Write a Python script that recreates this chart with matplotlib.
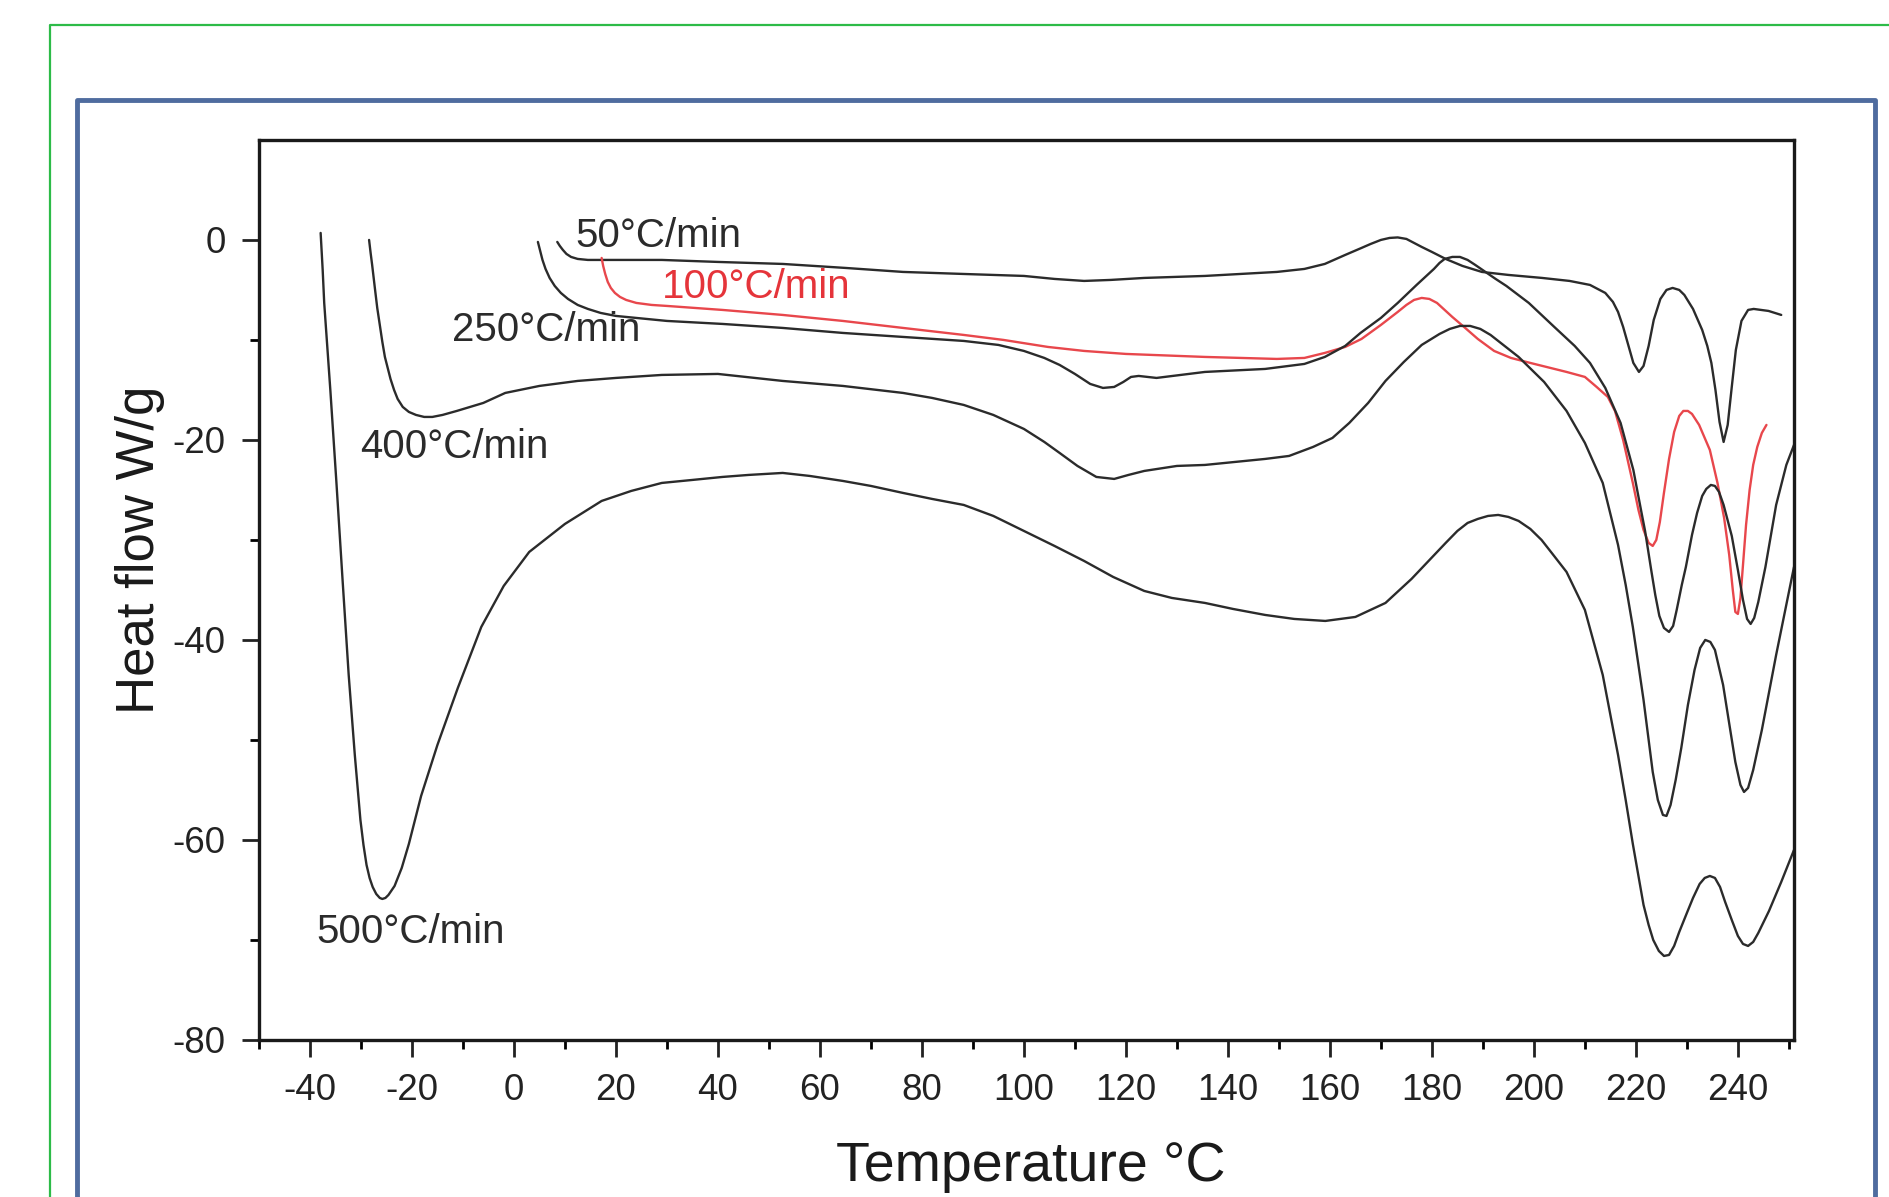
import matplotlib
matplotlib.use("Agg")
import matplotlib.pyplot as plt
from matplotlib.lines import Line2D
from matplotlib.ticker import MultipleLocator, FixedLocator

# Font settings (Arial-like)
plt.rcParams['font.family'] = ['Liberation Sans', 'DejaVu Sans']
plt.rcParams['axes.unicode_minus'] = False

# ---- data ----
# 50 C/min
t50 = [8.5, 9.0, 9.6, 10.3, 11.2, 12.5, 14.5, 20, 29, 40, 52.7, 65, 76.3, 88, 100, 106, 111.8,
       117, 123.6, 135.5, 149.6, 155, 159, 163, 166.2, 168, 170, 171.7, 173.3, 175, 176.5,
       178, 180, 182.7, 186, 189.8, 195, 201.6, 207, 211, 214, 215.5, 216.5, 217.5, 218.5,
       219.5, 220.6, 221.5, 222.5, 223.5, 224.8, 226, 227.2, 228.5, 229.5, 231.2, 233, 234,
       234.8, 235.6, 236.4, 237.2, 238, 238.8, 239.6, 240.7, 242, 243.1, 246, 248.5]
hf50 = [-0.2, -0.6, -1.0, -1.4, -1.7, -1.9, -2.0, -2.0, -2.0, -2.2, -2.4, -2.8, -3.2, -3.4,
        -3.6, -3.9, -4.1, -4.0, -3.8, -3.6, -3.2, -2.9, -2.4, -1.5, -0.8, -0.4, 0.0, 0.2, 0.25,
        0.1, -0.3, -0.7, -1.2, -1.9, -2.6, -3.2, -3.5, -3.8, -4.1, -4.5, -5.3, -6.2, -7.2,
        -8.7, -10.5, -12.3, -13.2, -12.6, -10.6, -8.0, -5.9, -5.0, -4.8, -5.0, -5.5, -6.9,
        -9.0, -10.6, -12.3, -15.0, -18.2, -20.2, -18.5, -14.7, -11.0, -8.1, -7.0, -6.9, -7.1,
        -7.5]

# 100 C/min (red)
t100 = [17.2, 17.5, 17.9, 18.4, 19, 19.8, 20.8, 22, 24, 27, 30, 40.9, 52.7, 64.5, 76.3, 88.2,
        96, 104.7, 111.8, 120, 135.5, 149.6, 155, 159, 163, 166.2, 170, 173.3, 175, 176.5,
        178, 179.5, 181, 182.5, 184, 186.3, 189, 192.2, 195.5, 199.3, 206.4, 210, 212.3,
        214.5, 215.9, 217.5, 219.4, 220.5, 221.5, 222.5, 223.3, 224, 224.7, 225.5, 226.5,
        227.5, 228.5, 229.3, 230.2, 231, 232.4, 234.5, 236, 237.3, 238.3, 239, 239.5, 240,
        240.5, 241, 241.6, 242.3, 243, 243.8, 244.7, 245.6]
hf100 = [-1.8, -2.6, -3.4, -4.2, -4.8, -5.3, -5.7, -6.0, -6.3, -6.5, -6.6, -7.0, -7.5, -8.1,
         -8.8, -9.5, -10.0, -10.7, -11.1, -11.4, -11.7, -11.9, -11.8, -11.3, -10.7, -9.9, -8.5,
         -7.2, -6.5, -6.0, -5.8, -5.9, -6.3, -7.0, -7.7, -8.7, -9.9, -11.1, -11.8, -12.3,
         -13.2, -13.7, -14.7, -15.7, -17.1, -20.0, -24.3, -27.0, -29.0, -30.3, -30.6, -30.0,
         -28.2, -25.3, -21.9, -19.2, -17.6, -17.1, -17.1, -17.4, -18.5, -21.0, -24.3, -27.8,
         -31.5, -35.0, -37.2, -37.4, -35.8, -32.5, -28.5, -25.0, -22.5, -20.7, -19.3, -18.5]

# 250 C/min
t250 = [4.7, 5.1, 5.6, 6.2, 7, 8, 9.2, 10.6, 12.5, 14.5, 17, 20, 24, 30, 40.9, 52.7, 64.5,
        76.3, 88.2, 95, 100, 104, 107, 110, 113, 115.5, 117.7, 119.5, 121, 122.5, 126, 135.5,
        147.3, 155, 159, 163, 166, 170, 173.3, 177, 180.4, 181.5, 182.5, 184, 185.5, 187,
        188.5, 190.5, 192.5, 194.6, 199, 204, 208, 211, 214, 217, 219.5, 221, 221.8, 223,
        223.8, 224.6, 225.5, 226.5, 227.3, 228, 229, 229.8, 231, 232, 233, 233.8, 234.7,
        235.5, 236.3, 237.2, 238.8, 240, 241, 241.8, 242.5, 243.2, 244, 245.4, 247.5, 249.5,
        251]
hf250 = [-0.2, -1.0, -2.0, -2.9, -3.8, -4.6, -5.3, -5.9, -6.5, -6.9, -7.3, -7.6, -7.8, -8.1,
         -8.4, -8.8, -9.3, -9.7, -10.1, -10.5, -11.1, -11.8, -12.5, -13.4, -14.4, -14.8,
         -14.7, -14.2, -13.7, -13.6, -13.8, -13.2, -12.9, -12.4, -11.7, -10.6, -9.3, -7.8,
         -6.3, -4.5, -2.9, -2.3, -1.9, -1.7, -1.7, -2.0, -2.5, -3.2, -3.9, -4.6, -6.3, -8.7,
         -10.6, -12.3, -14.8, -18.3, -23.0, -27.0, -29.1, -33.0, -35.5, -37.6, -38.8, -39.2,
         -38.6, -37.0, -34.5, -32.7, -29.5, -27.3, -25.6, -24.9, -24.5, -24.6, -25.2, -26.5,
         -29.6, -33.0, -36.0, -37.9, -38.4, -37.8, -36.2, -32.7, -26.5, -22.5, -20.5]

# 400 C/min
t400 = [-28.4, -28.1, -27.8, -27.5, -27.2, -26.8, -26.3, -25.8, -25.3, -24.7, -24.2, -23.5,
        -22.8, -21.8, -20.6, -19.2, -17.6, -16, -14, -11.2, -6, -1.7, 5, 12.5, 20, 29, 40,
        52.7, 64.5, 76.3, 82, 88.2, 94, 100, 104, 107, 110.5, 114.2, 117.7, 120.5, 123.6, 130,
        135.5, 147.3, 152, 156.7, 160.5, 163.8, 167.5, 170.9, 174.5, 178, 181.5, 183.5, 185.5,
        187.5, 189.5, 191.5, 193, 195, 197, 202, 206.4, 210, 213.5, 216.5, 218, 219.4, 220.5,
        221.5, 222.5, 223.3, 224.3, 225.3, 226, 226.8, 227.8, 228.9, 230.2, 231.5, 232.6,
        233.6, 234.6, 235.5, 237.1, 238.5, 239.5, 240.5, 241.2, 242, 243, 244.7, 247.5, 251]
hf400 = [0, -1.3, -2.5, -3.8, -5.1, -6.8, -8.5, -10.2, -11.7, -12.9, -13.9, -15.0, -15.9,
         -16.7, -17.2, -17.5, -17.7, -17.7, -17.5, -17.1, -16.3, -15.3, -14.6, -14.1, -13.8,
         -13.5, -13.4, -14.1, -14.6, -15.3, -15.8, -16.5, -17.5, -18.9, -20.2, -21.3, -22.6,
         -23.7, -23.9, -23.5, -23.1, -22.6, -22.5, -21.9, -21.6, -20.7, -19.8, -18.3, -16.3,
         -14.1, -12.2, -10.5, -9.4, -8.9, -8.6, -8.6, -8.9, -9.5, -10.1, -10.9, -11.7, -14.2,
         -17.1, -20.3, -24.3, -30.5, -34.5, -38.7, -42.5, -46.0, -50.0, -53.2, -56.0, -57.5,
         -57.6, -56.5, -54.0, -50.8, -46.5, -43.0, -40.8, -40.0, -40.2, -41.0, -44.5, -49.0,
         -52.2, -54.5, -55.2, -54.8, -53.0, -49.0, -41.5, -32.7]

# 500 C/min
t500 = [-37.9, -37.5, -37.2, -36, -34.8, -33.6, -32.4, -31.2, -30.1, -29.5, -28.9, -28.3,
        -27.7, -27, -26.3, -25.8, -25.2, -24.6, -23.4, -22, -20.6, -18.2, -15, -11, -6.4, -2,
        3, 10, 17.2, 23, 29, 35, 40.9, 46, 52.7, 58, 64.5, 70, 76.3, 82, 88.2, 94, 100, 106,
        111.8, 117.5, 123.6, 129, 135.5, 141, 147.3, 153, 159.1, 165, 170.9, 176, 182.7, 185,
        187, 189, 191, 193, 195, 197, 199.3, 201.5, 203.5, 206.4, 210, 213.5, 216.5, 218,
        219.4, 220.5, 221.5, 222.5, 223.4, 224.5, 225.5, 226.5, 227.5, 228.5, 230, 231.2,
        232.5, 233.5, 234.5, 235.5, 236.5, 237.5, 238.8, 240, 241, 242, 243, 244, 246.1,
        248.5, 251]
hf500 = [0.7, -3, -6.3, -15, -24.3, -34, -43.5, -51.5, -58, -60.5, -62.5, -63.8, -64.7, -65.4,
         -65.8, -65.9, -65.8, -65.5, -64.6, -62.8, -60.4, -55.6, -50.5, -44.8, -38.7, -34.6,
         -31.2, -28.4, -26.1, -25.1, -24.3, -24.0, -23.7, -23.5, -23.3, -23.6, -24.1, -24.6,
         -25.3, -25.9, -26.5, -27.6, -29.1, -30.6, -32.1, -33.7, -35.1, -35.8, -36.3, -36.9,
         -37.5, -37.9, -38.1, -37.7, -36.3, -33.9, -30.3, -29.1, -28.3, -27.9, -27.6, -27.5,
         -27.7, -28.1, -28.9, -30.0, -31.3, -33.2, -37.0, -43.5, -51.5, -56.0, -60.4, -63.6,
         -66.5, -68.5, -70.0, -71.1, -71.6, -71.5, -70.6, -69.2, -67.3, -65.8, -64.4, -63.8,
         -63.6, -63.8, -64.7, -66.2, -68.0, -69.6, -70.4, -70.6, -70.2, -69.3, -67.1, -64.2,
         -61.0]

# curve labels: text, x, y, colour
labels = ['50°C/min', '100°C/min', '250°C/min', '400°C/min', '500°C/min']
label_x = [12.0, 29.0, -12.1, -30.1, -38.8]
label_y = [0.4, -4.7, -9.0, -20.7, -69.2]
label_col = ['#2b2b2b', '#e5343a', '#2b2b2b', '#2b2b2b', '#2b2b2b']

xticks = list(range(-40, 241, 20))
yticks = [0, -20, -40, -60, -80]

# ---- figure ----
fig = plt.figure(figsize=(18.9, 11.97), dpi=100)

# screenshot frames (green outer, blue inner)
fig.add_artist(Line2D([0.0265, 0.0265, 1.0], [0.0, 0.9791, 0.9791],
                      color='#2dbb48', lw=1.6, transform=fig.transFigure))
fig.add_artist(Line2D([0.0405, 0.0405, 0.9922, 0.9922], [0.0, 0.9165, 0.9165, 0.0],
                      color='#4f6c9f', lw=3.5, transform=fig.transFigure))

ax = fig.add_axes([0.137, 0.1312, 0.8122, 0.7519])

line_col = '#2b2b2b'
kw = dict(lw=1.7, solid_joinstyle='round', solid_capstyle='round')
ax.plot(t50, hf50, color=line_col, **kw)
ax.plot(t100, hf100, color='#e8474c', **kw)
ax.plot(t250, hf250, color=line_col, **kw)
ax.plot(t400, hf400, color=line_col, **kw)
ax.plot(t500, hf500, color=line_col, **kw)

for txt, lx, ly, c in zip(labels, label_x, label_y, label_col):
    ax.text(lx, ly, txt, color=c, fontsize=29, ha='left', va='center')

ax.set_xlim(-50, 251)
ax.set_ylim(-80, 10)
ax.set_xticks(xticks)
ax.set_yticks(yticks)
ax.xaxis.set_minor_locator(MultipleLocator(10))
ax.yaxis.set_minor_locator(FixedLocator([-70, -50, -30, -10]))
ax.tick_params(which='major', direction='out', length=12, width=2, labelsize=26.5,
               colors='#222222', pad=12, top=False, right=False)
ax.tick_params(which='minor', direction='out', length=6.5, width=2, top=False, right=False)

for sp in ax.spines.values():
    sp.set_linewidth(2.4)
    sp.set_color('#1a1a1a')

# axis titles placed like in the original screenshot (y title nudged left of the tick labels)
fig.text(0.074, 0.5405, 'Heat flow W/g', rotation=90, fontsize=38,
         ha='center', va='center', color='#1a1a1a')
fig.text(0.5455, 0.013, 'Temperature °C', fontsize=40,
         ha='center', va='baseline', color='#1a1a1a')

fig.savefig('out.png', dpi=100)
